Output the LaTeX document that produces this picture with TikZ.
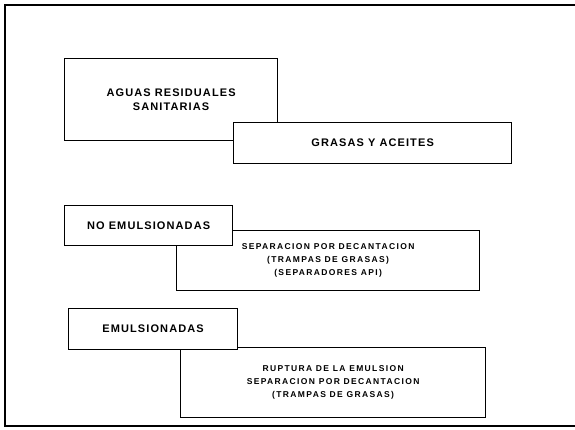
\documentclass[tikz,border=0pt]{standalone}
\usepackage{fontspec}
\setmainfont{Liberation Sans}
\newfontfamily\boxfont{Liberation Sans}[LetterSpace=10]
\newfontfamily\notefont{Liberation Sans}[LetterSpace=16]
\begin{document}
\begin{tikzpicture}[x=1pt, y=-1pt,
    block/.style={rectangle, draw, line width=1.2pt, fill=white, anchor=north west, inner sep=0pt, align=center, font=\boxfont\bfseries\fontsize{11}{13.5}\selectfont},
    note/.style={block, font=\notefont\bfseries\fontsize{8.5}{13}\selectfont}]
    \useasboundingbox (0,0) rectangle (575,430);
    \draw [line width=1.3pt] (575,5) -- (5,5) -- (5,426) -- (575,426);

    \node [block, minimum width=213pt, minimum height=82pt] (aguas) at (64,58) {AGUAS RESIDUALES\\SANITARIAS};
    \node [block, minimum width=278pt, minimum height=41pt] (grasas) at (233,122) {GRASAS Y ACEITES};

    \node [note, minimum width=303pt, minimum height=60pt] (decant) at (176,230) {SEPARACION POR DECANTACION\\(TRAMPAS DE GRASAS)\\(SEPARADORES API)};
    \node [block, minimum width=168pt, minimum height=40pt] (noemul) at (64,205) {NO EMULSIONADAS};

    \node [note, minimum width=305pt, minimum height=70pt] (ruptura) at (180,347) {RUPTURA DE LA EMULSION\\SEPARACION POR DECANTACION\\(TRAMPAS DE GRASAS)};
    \node [block, minimum width=169pt, minimum height=41pt] (emul) at (68,308) {EMULSIONADAS};
\end{tikzpicture}
\end{document}
